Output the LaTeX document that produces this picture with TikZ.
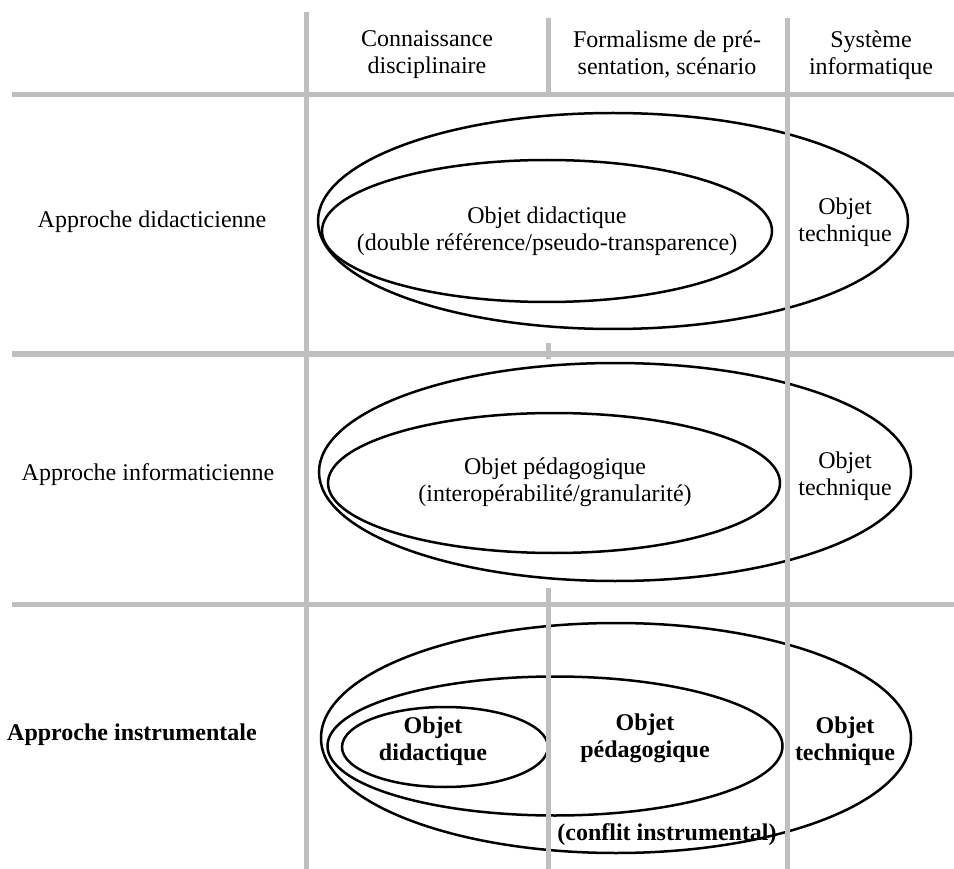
\documentclass[tikz,border=0pt]{standalone}
\usepackage{fontspec}
\setmainfont{Liberation Serif}
\usetikzlibrary{shapes.geometric}

\begin{document}
\begin{tikzpicture}[x=1pt,y=-1pt,
  gridline/.style={draw=gray!50,line width=5pt},
  oval/.style={ellipse,draw=black,line width=2.5pt,inner sep=0pt},
  txt/.style={align=center,inner sep=0pt,font=\fontsize{24}{27}\selectfont},
  btxt/.style={align=center,inner sep=0pt,font=\fontsize{24}{27}\selectfont\bfseries}]

\useasboundingbox (0,0) rectangle (954,869);

% draw ellipses of the first row
\node[oval,minimum width=590pt,minimum height=216pt] (didout) at (613,221) {};
\node[oval,minimum width=450pt,minimum height=142pt] (didin) at (547,231) {};

% draw ellipses of the second row
\node[oval,minimum width=592pt,minimum height=218pt] (infout) at (615,472) {};
\node[oval,minimum width=452pt,minimum height=140pt] (infin) at (554,483) {};

% draw ellipses of the third row
\node[oval,minimum width=590pt,minimum height=230pt] (insout) at (616,738) {};
\node[oval,minimum width=455pt,minimum height=139pt] (insmid) at (555,746) {};
\node[oval,minimum width=206pt,minimum height=80pt] (insin) at (445,747) {};

% draw grid
\foreach \y in {95,354,604}
{
  \draw[gridline] (12,\y) -- (954,\y);
}
\draw[gridline] (306,12) -- (306,869);
\draw[gridline] (787,18) -- (787,869);
\draw[gridline] (548,18) -- (548,97);
\draw[gridline] (548,343) -- (548,359);
\draw[gridline] (548,588) -- (548,869);

% draw column headers
\node[txt] (colone) at (427,55) {Connaissance\\disciplinaire};
\node[txt] (coltwo) at (667,55) {Formalisme de pré-\\sentation, scénario};
\node[txt] (colthree) at (871,55) {Système\\informatique};

% draw row labels
\node[txt] (rowone) at (152,222) {Approche didacticienne};
\node[txt] (rowtwo) at (148,475) {Approche informaticienne};
\node[btxt] (rowthree) at (132,735) {Approche instrumentale};

% draw object labels
\node[txt] (didobj) at (547,231) {Objet didactique\\(double référence/pseudo-transparence)};
\node[txt] (didtech) at (845,222) {Objet\\technique};
\node[txt] (infobj) at (555,482) {Objet pédagogique\\(interopérabilité/granularité)};
\node[txt] (inftech) at (845,476) {Objet\\technique};
\node[btxt] (insdid) at (433,741) {Objet\\didactique};
\node[btxt] (inspeda) at (645,738) {Objet\\pédagogique};
\node[btxt] (instech) at (845,741) {Objet\\technique};
\node[btxt] (insconf) at (667,835) {(conflit instrumental)};

\end{tikzpicture}
\end{document}
